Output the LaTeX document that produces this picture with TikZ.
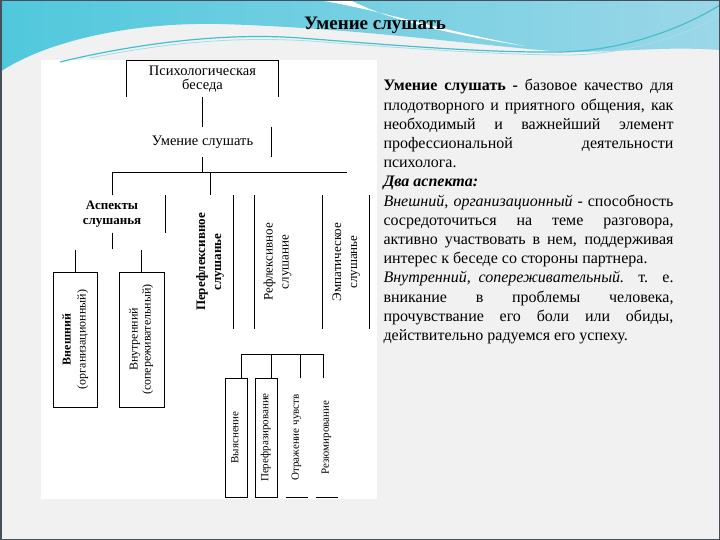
\documentclass[tikz,border=0pt]{standalone}
\usepackage{fontspec}
\setmainfont{Liberation Serif}
\usepackage{tikz}
\usetikzlibrary{positioning}
\definecolor{slidegray}{RGB}{241,241,241}
\definecolor{slideedge}{RGB}{70,80,90}
\definecolor{waveleft}{RGB}{80,200,220}
\definecolor{wavemid}{RGB}{130,190,212}
\definecolor{waveright}{RGB}{155,215,232}
\definecolor{waveline}{RGB}{70,190,205}
\newcommand{\vtext}[2]{\rotatebox{90}{#1\begin{tabular}{@{}c@{}}#2\end{tabular}}}

\begin{document}
\begin{tikzpicture}[x=1pt,y=-1pt,line width=1pt,
    frame node/.style={inner sep=0pt,align=center},
    head node/.style={frame node,font=\fontsize{14.5}{14}\selectfont},
    side node/.style={frame node,minimum height=132,font=\fontsize{13}{16}\selectfont},
    low node/.style={frame node,minimum width=22,minimum height=119}]
  \useasboundingbox (0,0) rectangle (720,540);
  % slide background
  \fill[slidegray] (0,0) rectangle (720,540);
  \fill[white] (41,60) rectangle (377,499);
  \shade[left color=waveleft,middle color=wavemid,right color=waveright]
    (0,0) -- (720,0) -- (720,50) .. controls (650,45) and (600,56) .. (540,50)
    .. controls (450,42) and (350,28) .. (220,24) .. controls (120,22) and (40,45) .. (0,72) -- cycle;
  \fill[white] (318,0) .. controls (380,10) and (430,28) .. (525,46)
    .. controls (440,33) and (385,18) .. (350,0) -- cycle;
  \draw[waveline,line width=1.2pt] (60,62) .. controls (130,45) and (220,32) .. (300,38)
    .. controls (380,44) and (480,53) .. (560,52) .. controls (620,51) and (680,30) .. (720,5);
  \draw[waveline!50,line width=0.8pt] (90,58) .. controls (160,44) and (230,36) .. (310,41)
    .. controls (390,47) and (490,55) .. (570,55) .. controls (630,54) and (690,34) .. (720,15);
  \draw[slideedge,line width=1.5pt] (0.75,0.75) rectangle (719.25,539.25);
  \node[font=\fontsize{19}{22}\selectfont\bfseries] (title) at (375,25) {Умение слушать};

  % tree
  \node[head node,minimum width=151,minimum height=36] (beseda) at (202.5,79) {Психологическая\\беседа};
  \node[head node,minimum width=137,minimum height=29] (umenie) at (202.5,142.5) {\raisebox{3.5pt}{Умение слушать}};
  \coordinate (fork) at (202.5,173);
  \coordinate (hr) at (347,173);
  \node[frame node,minimum width=106,minimum height=36,font=\fontsize{13}{15}\selectfont\bfseries] (aspekty) at (112,214) {Аспекты\\слушанья};
  \node[side node,minimum width=46] (perefl) at (210,262) {\vtext{\bfseries}{Перефлексивное\\слушанье}};
  \node[side node,minimum width=45] (reflex) at (277.5,262) {\vtext{}{Рефлексивное\\слушание}};
  \node[side node,minimum width=46] (emp) at (346,262) {\vtext{}{Эмпатическое\\слушанье}};
  \node[frame node,draw,minimum width=44,minimum height=135] (vnesh) at (75,339.5)
    {\vtext{\fontsize{12}{15}\selectfont}{\textbf{Внешний}\\(организационный)}};
  \node[frame node,draw,minimum width=45,minimum height=135] (vnutr) at (141.5,339.5)
    {\vtext{\fontsize{12}{13}\selectfont}{Внутренний\\(сопереживательный)}};
  \node[low node,draw] (vyyasn) at (236,437.5) {\vtext{\fontsize{11}{12}\selectfont}{Выяснение}};
  \node[low node,draw] (peref) at (266,437.5) {\vtext{\fontsize{11}{12}\selectfont}{Перефразирование}};
  \node[low node,minimum width=21] (otraz) at (296.5,437.5) {\vtext{\fontsize{11}{12}\selectfont}{Отражение чувств}};
  \node[low node,minimum width=21] (rezyum) at (326.5,437.5) {\vtext{\fontsize{11}{12}\selectfont}{Резюмирование}};
  \coordinate (br) at (323,354);

  \draw (beseda.south west) -- (beseda.north west) -- (beseda.north east) -- (beseda.south east);
  \draw (umenie.north east) -- (umenie.south east);
  \draw (aspekty.north east) -- (aspekty.south east);
  \draw (perefl.north east) -- (perefl.south east);
  \draw (reflex.north west) -- (reflex.south west);
  \draw (emp.south west) -- (emp.north west) (emp.north east) -- (emp.south east);
  \draw (otraz.south west) -- (otraz.south east);
  \draw (rezyum.south west) -- (rezyum.south east);
  \path (beseda) edge (umenie)
        (umenie) edge (fork)
        (perefl.north |- fork) edge (perefl.north);
  \draw (aspekty.north) |- (hr);
  \draw (aspekty.south) -- ++(0,16);
  \draw (vnesh.north) -- ++(0,-22);
  \draw (vnutr.north) -- ++(0,-22);
  \draw ([xshift=5pt]vyyasn.north) |- (br) -- ([xshift=-3.5pt]rezyum.north);
  \draw ([xshift=5pt]peref.north) -- ([xshift=5pt]peref.north |- br);
  \draw ([xshift=3.5pt]otraz.north) -- ([xshift=3.5pt]otraz.north |- br);

  % text
  \node[anchor=north west,inner sep=0pt,text width=290,align=justify,
        font=\fontsize{16}{19.2}\selectfont] (about) at (383,79)
    {\tolerance=10000 \hyphenpenalty=10000
     {\bfseries Умение слушать -} базовое качество для\linebreak
     плодотворного и приятного общения, как\linebreak
     необходимый и важнейший элемент\linebreak
     профессиональной деятельности\linebreak
     психолога.\\
     {\bfseries\itshape Два аспекта:}\\
     {\itshape Внешний, организационный} - способность\linebreak
     сосредоточиться на теме разговора,\linebreak
     активно участвовать в нем, поддерживая\linebreak
     интерес к беседе со стороны партнера.\\
     {\itshape Внутренний, сопереживательный.} т. е.\linebreak
     вникание в проблемы человека,\linebreak
     прочувствание его боли или обиды,\linebreak
     действительно радуемся его успеху.};
\end{tikzpicture}
\end{document}
